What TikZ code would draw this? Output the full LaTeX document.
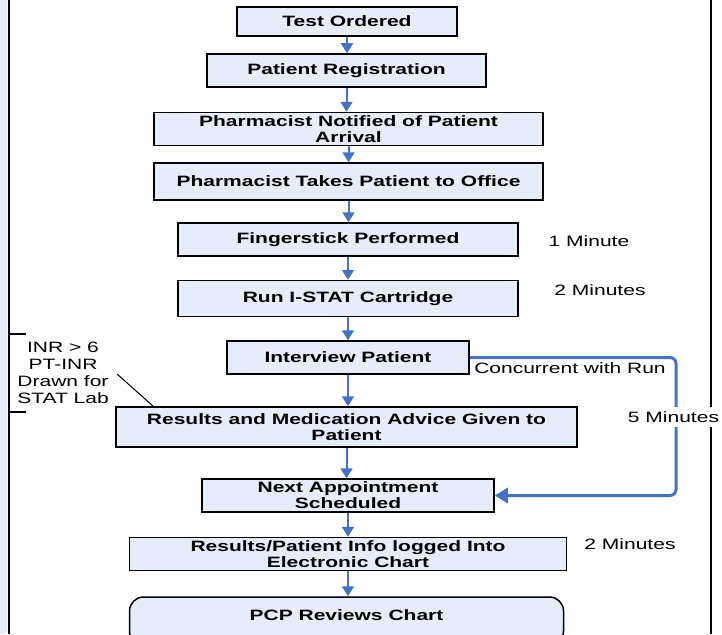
\documentclass[tikz,border=0pt]{standalone}
\usepackage{fontspec}
\setmainfont{Liberation Sans}[FakeStretch=1.4]
\usetikzlibrary{arrows.meta}
\definecolor{boxfill}{RGB}{230,237,248}
\definecolor{flowblue}{RGB}{68,114,196}
\begin{document}
\begin{tikzpicture}[x=1pt,y=-1pt,
  stepbox/.style={draw=black, line width=1.5pt, fill=boxfill, inner sep=0pt, align=center, font=\fontsize{15}{16}\selectfont\bfseries},
  boxtext/.style={inner sep=0pt, align=center, font=\fontsize{15}{16}\selectfont\bfseries},
  lbl/.style={inner sep=0pt, font=\fontsize{15}{17}\selectfont},
  flow/.style={draw=flowblue, line width=2pt, -{Triangle[width=12pt,length=10pt]}},
  sideline/.style={draw=black, line width=1.5pt},
]
\path[use as bounding box, clip] (0,0) rectangle (722,634);
% frame pieces
\fill[boxfill] (0,0) rectangle (7,634);
\draw[sideline] (9,0) -- (9,634);
\draw[sideline] (9,334) -- (26,334);
\draw[sideline] (9,412) -- (26,412);
\draw[sideline] (711,0) -- (711,634);
% boxes
\node[stepbox, minimum width=220pt, minimum height=29pt] (n1) at (347,21.5) {Test Ordered};
\node[stepbox, minimum width=279pt, minimum height=33pt] (n2) at (346.5,70.5) {Patient Registration};
\node[stepbox, minimum width=389pt, minimum height=33pt] (n3) at (348.5,129) {Pharmacist Notified of Patient\\Arrival};
\node[stepbox, minimum width=389pt, minimum height=37pt] (n4) at (348.5,181.5) {Pharmacist Takes Patient to Office};
\node[stepbox, minimum width=340pt, minimum height=33pt] (n5) at (348,239.5) {Fingerstick Performed};
\node[stepbox, minimum width=340pt, minimum height=36pt] (n6) at (348,298.5) {Run I-STAT Cartridge};
\node[stepbox, minimum width=242pt, minimum height=33pt] (n7) at (348,357.5) {Interview Patient};
\node[stepbox, minimum width=461pt, minimum height=40pt] (n8) at (346.5,427) {Results and Medication Advice Given to\\Patient};
\node[stepbox, minimum width=292pt, minimum height=33pt] (n9) at (348,495.5) {Next Appointment\\Scheduled};
\node[stepbox, minimum width=437pt, minimum height=33pt] (n10) at (348,554) {Results/Patient Info logged Into\\Electronic Chart};
\node[stepbox, rounded corners=14pt, minimum width=434pt, minimum height=48pt] (n11) at (346.5,621) {};
\node[boxtext] (n11t) at (346.5,615) {PCP Reviews Chart};
% flow arrows
\foreach \a/\b in {n1/n2,n2/n3,n3/n4,n4/n5,n5/n6,n6/n7,n7/n8,n8/n9,n9/n10,n10/n11}
  \draw[flow] (\a.south) -- (\a.south |- \b.north);
% concurrent connector
\coordinate (cr) at (676,0);
\draw[draw=flowblue, line width=3pt, rounded corners=6pt, -{Triangle[width=15pt,length=13pt]}]
  (n7.east) -- (n7.east -| cr) -- (cr |- n9.east) -- (n9.east);
% labels
\node[lbl] (t1) at (589,241) {1 Minute};
\node[lbl] (t2) at (600,290) {2 Minutes};
\node[lbl] (tc) at (570,368) {Concurrent with Run};
\node[lbl, fill=white, inner ysep=4pt, inner xsep=1pt] (t5) at (673.5,417) {5 Minutes};
\node[lbl] (t3) at (630,544) {2 Minutes};
\node[lbl, align=center] (note) at (63,373) {INR > 6\\PT-INR\\Drawn for\\STAT Lab};
\coordinate (d1) at (117,374);
\coordinate (d2) at (153,406);
\draw[black, line width=1pt] (d1) -- (d2);
\end{tikzpicture}
\end{document}
